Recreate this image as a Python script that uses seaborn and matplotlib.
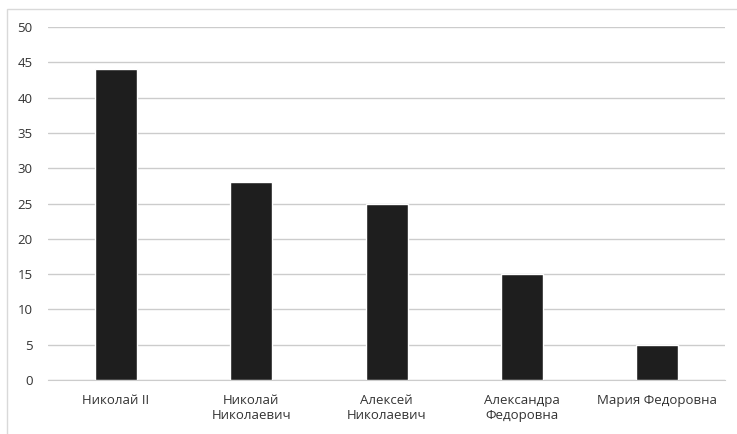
import seaborn as sns
import matplotlib.pyplot as plt
import matplotlib.patches as mpatches
import pandas as pd

names = ['Николай II', 'Николай\nНиколаевич', 'Алексей\nНиколаевич',
         'Александра\nФедоровна', 'Мария Федоровна']
values = [44, 28, 25, 15, 5]
yticks = [0, 5, 10, 15, 20, 25, 30, 35, 40, 45, 50]

df = pd.DataFrame({'name': names, 'value': values})

sns.set_style('white')
plt.rcParams['font.family'] = ['Open Sans', 'DejaVu Sans']

fig = plt.figure(figsize=(7.37, 4.34), dpi=100)
ax = fig.add_axes([0.065, 0.1244, 0.919, 0.8134])

sns.barplot(data=df, x='name', y='value', color='#1e1e1e', width=0.31,
            saturation=1, ax=ax, zorder=3)

ax.set_ylim(0, 50)
ax.set_yticks(yticks)
ax.set_xlim(-0.5, len(names) - 0.5)
ax.grid(axis='y', color='#cccccc', linewidth=1, zorder=0)
for s in ['top', 'right', 'left']:
    ax.spines[s].set_visible(False)
ax.spines['bottom'].set_color('#cccccc')
ax.tick_params(axis='both', length=0, labelsize=9.5, colors='#333333')
ax.tick_params(axis='x', pad=10)
ax.tick_params(axis='y', pad=11)
ax.set_xlabel('')
ax.set_ylabel('')

# chart frame
fig.patches.append(mpatches.Rectangle((7 / 737, -0.05), 1.0, 1.05 - 9 / 434,
                                      transform=fig.transFigure, fill=False,
                                      edgecolor='#d9d9d9', linewidth=1))

fig.savefig('out.png', dpi=100)
